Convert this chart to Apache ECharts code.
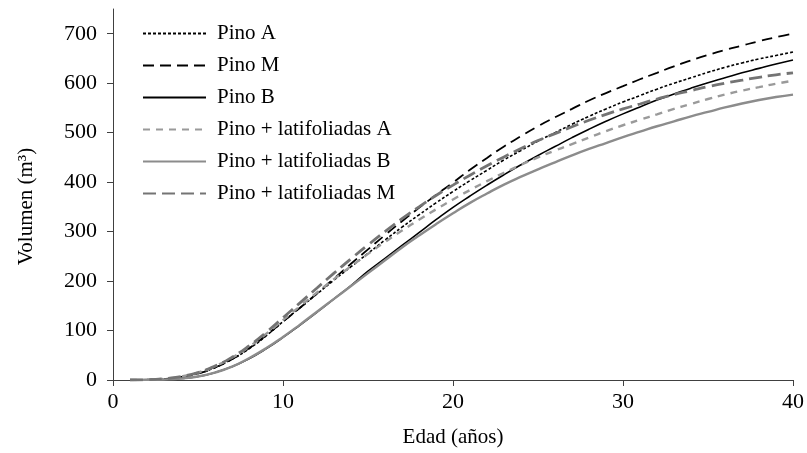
<!DOCTYPE html>
<html>
<head>
<meta charset="utf-8">
<script src="https://cdn.jsdelivr.net/npm/echarts@6/dist/echarts.min.js"></script>
<style>
    html, body { margin: 0; padding: 0; background: #fff; }
    #main { width: 807px; height: 453px; }
</style>
</head>
<body>
<div id="main"></div>
<script>
// edad (años)
const ages = [1, 2, 3, 4, 5, 6, 7, 8, 9, 10, 11, 12, 13, 14, 15, 16, 17, 18, 19, 20,
    21, 22, 23, 24, 25, 26, 27, 28, 29, 30, 31, 32, 33, 34, 35, 36, 37, 38, 39, 40];

// volumen (m3)
const pinoA = [0, 0.5, 2, 6, 13, 25, 42, 63, 89, 118, 146, 174, 202, 229, 256, 283, 309, 334, 358, 381,
    403, 424, 445, 464, 483, 500, 517, 533, 548, 562, 575, 588, 600, 611, 622, 632, 641, 649, 656, 663];
const pinoM = [0, 0.5, 2, 6, 13, 25, 42, 64, 90, 118, 146, 175, 205, 235, 264, 293, 321, 348, 374, 399,
    425, 449, 472, 493, 513, 531, 548, 565, 580, 594, 608, 621, 634, 646, 657, 667, 676, 685, 693, 700];
const pinoB = [0, 0.2, 1, 3, 7, 15, 27, 43, 63, 86, 111, 137, 164, 191, 220, 246, 272, 298, 324, 349,
    372, 394, 415, 435, 454, 472, 490, 507, 523, 538, 552, 566, 578, 590, 601, 611, 621, 630, 639, 647];
const platA = [0, 0.5, 2.5, 7, 15, 28, 45, 67, 93, 121, 149, 177, 204, 230, 255, 279, 302, 324, 345, 365,
    384, 402, 419, 435, 450, 464, 477, 490, 503, 515, 526, 537, 548, 558, 568, 577, 585, 592, 599, 605];
const platB = [0, 0.2, 1, 3, 7, 15, 27, 44, 64, 87, 112, 138, 164, 190, 216, 242, 268, 292, 315, 337,
    358, 377, 395, 411, 426, 440, 454, 467, 479, 491, 502, 513, 523, 533, 542, 551, 559, 566, 572, 577];
const platM = [0, 0.5, 2.5, 7, 15, 28, 46, 69, 96, 126, 156, 186, 216, 245, 273, 300, 326, 350, 373, 394,
    414, 433, 451, 468, 484, 498, 512, 525, 537, 548, 558, 568, 577, 585, 593, 600, 606, 612, 617, 621];

const xTicks = [0, 10, 20, 30, 40];
const yTicks = [0, 100, 200, 300, 400, 500, 600, 700];

const font = 'Liberation Serif';

function pairs(vals) {
    return ages.map((a, i) => [a, vals[i]]);
}

function line(name, vals, color, width, type) {
    return {
        name: name,
        type: 'line',
        data: pairs(vals),
        smooth: true,
        showSymbol: false,
        symbolSize: 0,
        lineStyle: { color: color, width: width, type: type },
        itemStyle: { color: color }
    };
}

const chart = echarts.init(document.getElementById('main'));

chart.setOption({
    backgroundColor: '#fff',
    animation: false,
    textStyle: { fontFamily: font },
    grid: { left: 113, right: 14, top: 9, bottom: 72 },
    legend: {
        orient: 'vertical',
        left: 137,
        top: 18,
        itemWidth: 63,
        itemHeight: 14,
        itemGap: 11,
        itemStyle: { opacity: 0 },
        textStyle: { fontFamily: font, fontSize: 21, color: '#000', padding: [0, 0, 0, 6] },
        data: ['Pino A', 'Pino M', 'Pino B', 'Pino + latifoliadas A', 'Pino + latifoliadas B', 'Pino + latifoliadas M']
    },
    xAxis: {
        type: 'value',
        min: 0,
        max: 40,
        interval: 10,
        name: 'Edad (años)',
        nameLocation: 'middle',
        nameGap: 47,
        nameTextStyle: { fontFamily: font, fontSize: 21, color: '#000' },
        splitLine: { show: false },
        axisLine: { lineStyle: { color: '#404040', width: 1 } },
        axisTick: { show: true, length: 6, lineStyle: { color: '#404040' }, customValues: xTicks },
        axisLabel: { fontFamily: font, fontSize: 22, color: '#000', margin: 11, customValues: xTicks }
    },
    yAxis: {
        type: 'value',
        min: 0,
        max: 750,
        interval: 100,
        name: 'Volumen (m³)',
        nameLocation: 'middle',
        nameGap: 76,
        nameRotate: 90,
        nameTextStyle: { fontFamily: font, fontSize: 21, color: '#000', padding: [0, 24, 0, 0] },
        splitLine: { show: false },
        axisLine: { show: true, lineStyle: { color: '#404040', width: 1 } },
        axisTick: { show: true, length: 6, lineStyle: { color: '#404040' }, customValues: yTicks },
        axisLabel: { fontFamily: font, fontSize: 22, color: '#000', margin: 16, customValues: yTicks }
    },
    series: [
        line('Pino A', pinoA, '#000', 1.6, [3, 2]),
        line('Pino M', pinoM, '#000', 1.8, [11, 6]),
        line('Pino B', pinoB, '#000', 1.6, 'solid'),
        line('Pino + latifoliadas A', platA, '#9a9a9a', 2.4, [7, 6]),
        line('Pino + latifoliadas B', platB, '#8c8c8c', 2.4, 'solid'),
        line('Pino + latifoliadas M', platM, '#747474', 2.8, [13, 6])
    ]
});
</script>
</body>
</html>
